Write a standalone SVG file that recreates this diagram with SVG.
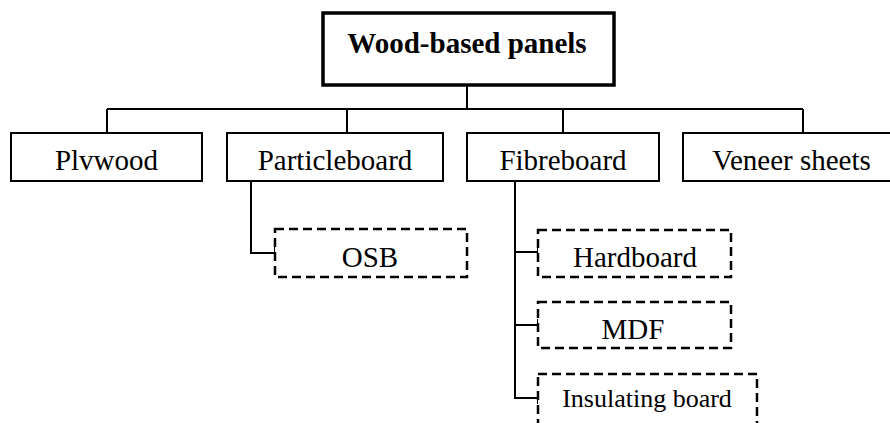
<svg xmlns="http://www.w3.org/2000/svg" width="890" height="423" viewBox="0 0 890 423">
<style>
  .t { font-family: "Liberation Serif", "Times New Roman", serif; font-size: 29px; fill: #000; text-anchor: middle; }
  .b { font-weight: bold; }
  .box { fill: #fff; stroke: #000; stroke-width: 2; }
  .top { fill: #fff; stroke: #000; stroke-width: 3.5; }
  .dash { fill: #fff; stroke: #000; stroke-width: 2.5; stroke-dasharray: 9 5; }
  .ln { fill: none; stroke: #000; stroke-width: 2; }
</style>
<rect width="890" height="423" fill="#fff"/>
<g id="connectors">
  <path class="ln" d="M467 85 V109 M107 109 H803 M107 109 V133 M347 109 V133 M563 109 V133 M803 109 V133"/>
  <path class="ln" d="M251 181 V253 H275 M275 247 V259"/>
  <path class="ln" d="M515 181 V398 H538 M515 252 H538 M515 325 H538"/>
  <path class="ln" d="M538 246 V258 M538 319 V331 M538 392 V404"/>
</g>
<g id="n-root">
  <rect class="top" x="323" y="13" width="291" height="72"/>
  <text class="t b" x="467" y="53">Wood-based panels</text>
</g>
<g id="n-plywood">
  <rect class="box" x="11" y="133" width="191" height="48"/>
  <text class="t" x="106.5" y="170">Plvwood</text>
</g>
<g id="n-particleboard">
  <rect class="box" x="227" y="133" width="216" height="48"/>
  <text class="t" x="335" y="170">Particleboard</text>
</g>
<g id="n-fibreboard">
  <rect class="box" x="467" y="133" width="192" height="48"/>
  <text class="t" x="563" y="170">Fibreboard</text>
</g>
<g id="n-veneer">
  <rect class="box" x="683" y="133" width="215" height="48"/>
  <text class="t" x="791.5" y="170">Veneer sheets</text>
</g>
<g id="n-osb">
  <rect class="dash" x="275" y="229" width="192" height="48"/>
  <text class="t" x="370" y="267">OSB</text>
</g>
<g id="n-hardboard">
  <rect class="dash" x="538" y="230" width="193" height="47"/>
  <text class="t" x="635" y="267">Hardboard</text>
</g>
<g id="n-mdf">
  <rect class="dash" x="538" y="302" width="193" height="46"/>
  <text class="t" x="633" y="339">MDF</text>
</g>
<g id="n-insulating">
  <rect class="dash" x="538" y="374" width="219" height="60"/>
  <text class="t" x="647" y="407" style="font-size:26px">Insulating board</text>
</g>
</svg>
